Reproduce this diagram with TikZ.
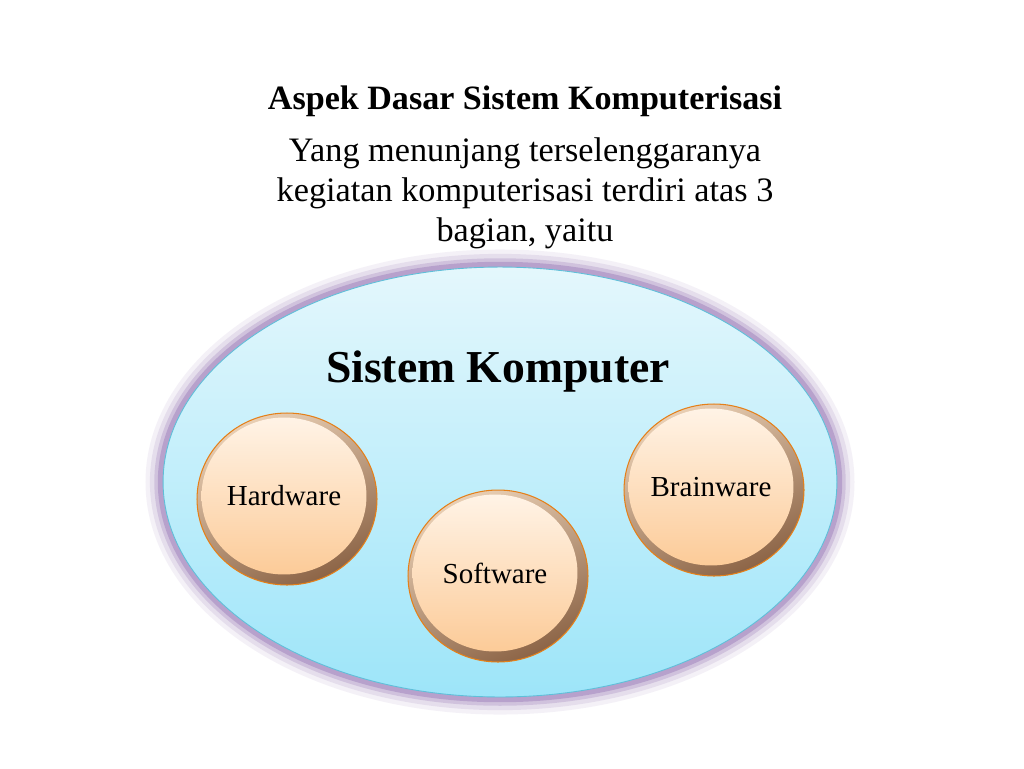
\documentclass[tikz,border=0pt]{standalone}
\usepackage{fontspec}
\setmainfont{Liberation Serif}
\usetikzlibrary{shapes.geometric, positioning}
\definecolor{skytop}{HTML}{E4F7FC}
\definecolor{skybot}{HTML}{9DE5F9}
\definecolor{skyline}{HTML}{5FBFD9}
\definecolor{glow}{HTML}{9A7BB8}
\definecolor{peachtop}{HTML}{FFF3E6}
\definecolor{peachbot}{HTML}{FCCB98}
\definecolor{ringlight}{HTML}{E9CFB4}
\definecolor{ringdark}{HTML}{8C6446}
\tikzset{
  system/.style={ellipse, minimum width=13.48cm, minimum height=8.6cm,
    top color=skytop, bottom color=skybot, draw=skyline, line width=0.5pt},
  ring/.style={ellipse, minimum width=3.6cm, minimum height=3.44cm,
    top color=ringlight, bottom color=ringdark, shading angle=25,
    draw=orange!60!brown, line width=0.6pt},
  part/.style={ellipse, minimum width=3.3cm, minimum height=3.14cm,
    inner xsep=-8pt, inner ysep=0pt,
    top color=peachtop, bottom color=peachbot, font=\fontsize{16.5}{19}\selectfont}
}
\begin{document}
\begin{tikzpicture}[x=0.02cm, y=-0.02cm]
\useasboundingbox[fill=white] (0,0) rectangle (1024,768);
% glow round the system
\foreach \w/\o in {20/0.10, 15/0.16, 10/0.28, 6/0.45}
  \node[ellipse, minimum width=13.48cm, minimum height=8.6cm,
    draw=glow, line width=\w pt, opacity=\o] at (500,482) {};
\node[system] (sys) at (500,482) {};
\node[font=\fontsize{26}{30}\selectfont\bfseries] (name) at (498,372) {Sistem Komputer};

% the three parts
\node[ring] (hwr) at (287,499) {};
\node[part] (hw) at (284,496) {Hardware};
\node[ring] (swr) at (498,576) {};
\node[part] (sw) at (495,573) {Software};
\node[ring] (bwr) at (714,490) {};
\node[part] (bw) at (711,487) {Brainware};

% heading
\node[font=\fontsize{19.4}{23}\selectfont\bfseries] (title) at (525,101) {Aspek Dasar Sistem Komputerisasi};
\node[font=\fontsize{19.5}{22.7}\selectfont, align=center] (intro) at (525,193)
  {Yang menunjang terselenggaranya\\kegiatan komputerisasi terdiri atas 3\\bagian, yaitu};
\end{tikzpicture}
\end{document}
